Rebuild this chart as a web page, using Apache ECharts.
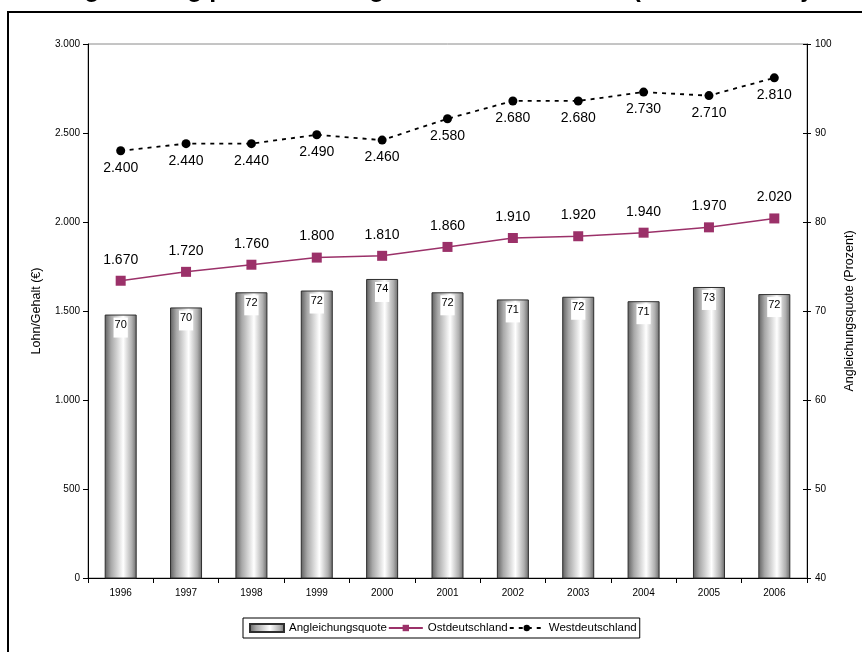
<!DOCTYPE html>
<html>
<head>
<meta charset="utf-8">
<script src="https://cdn.jsdelivr.net/npm/echarts@6/dist/echarts.min.js"></script>
<style>
  html, body { margin: 0; padding: 0; background: #fff; }
  #chart { width: 862px; height: 652px; }
</style>
</head>
<body>
<div id="chart"></div>
<script>
// Jahre
const years = ['1996', '1997', '1998', '1999', '2000', '2001', '2002', '2003', '2004', '2005', '2006'];
// Durchschnittlicher Lohn/Gehalt in Euro
const westdeutschland = [2400, 2440, 2440, 2490, 2460, 2580, 2680, 2680, 2730, 2710, 2810];
const ostdeutschland = [1670, 1720, 1760, 1800, 1810, 1860, 1910, 1920, 1940, 1970, 2020];
// Angleichungsquote Ost/West in Prozent
const angleichungsquote = [69.6, 70.4, 72.1, 72.3, 73.6, 72.1, 71.3, 71.6, 71.1, 72.7, 71.9];

const FONT = '"Liberation Sans", Arial, sans-serif';
const fmtEuro = v => v.toLocaleString('de-DE');

const chart = echarts.init(document.getElementById('chart'), null, { renderer: 'canvas' });

const barFill = new echarts.graphic.LinearGradient(0, 0, 1, 0, [
  { offset: 0, color: '#5e5e5e' },
  { offset: 0.2, color: '#a8a8a8' },
  { offset: 0.58, color: '#ffffff' },
  { offset: 0.85, color: '#b0b0b0' },
  { offset: 1, color: '#686868' }
]);

const rightAxisBase = {
  type: 'value', position: 'right', min: 40, max: 100, interval: 10,
  splitLine: { show: false }
};

chart.setOption({
  animation: false,
  textStyle: { fontFamily: FONT },
  grid: {
    left: 88, right: 55, top: 44, bottom: 74,
    outerBoundsMode: 'none', containLabel: false,
    show: true, borderColor: '#8a8a8a', borderWidth: 1, backgroundColor: 'transparent'
  },
  graphic: [
    {
      type: 'rect', z: 100,
      shape: { x: 8, y: 12, width: 1000, height: 1000 },
      style: { fill: 'none', stroke: '#000', lineWidth: 2 }
    },
    {
      type: 'text', z: 100, x: -6, y: -22,
      style: {
        text: 'Lohnangleichung pro Beschäftigtem in Ost und West (Durchschnitt je Monat)',
        font: 'bold 25px "Liberation Sans", Arial, sans-serif',
        fill: '#000', verticalAlign: 'top', align: 'left'
      }
    }
  ],
  legend: {
    bottom: 14, left: 243,
    borderColor: '#000', borderWidth: 1, padding: [4, 3, 4, 6],
    itemGap: 1, itemWidth: 34, itemHeight: 8,
    textStyle: { fontSize: 11.5, color: '#000', fontFamily: FONT },
    data: [
      { name: 'Angleichungsquote', icon: 'rect' },
      'Ostdeutschland',
      'Westdeutschland'
    ]
  },
  xAxis: {
    type: 'category', data: years,
    axisLine: { lineStyle: { color: '#000', width: 1 } },
    axisTick: { show: true, alignWithLabel: false, length: 5, lineStyle: { color: '#000' } },
    axisLabel: { color: '#000', fontSize: 10, margin: 10 }
  },
  yAxis: [
    {
      type: 'value', min: 0, max: 3000, interval: 500, position: 'left',
      name: 'Lohn/Gehalt (€)', nameLocation: 'middle', nameGap: 45, nameRotate: 90,
      nameTextStyle: { color: '#000', fontSize: 12.5 },
      axisLine: { show: true, lineStyle: { color: '#000' } },
      axisTick: { show: true, length: 5, lineStyle: { color: '#000' } },
      axisLabel: { color: '#000', fontSize: 10, margin: 8, formatter: fmtEuro },
      splitLine: { show: false }
    },
    Object.assign({}, rightAxisBase, {
      name: 'Angleichungsquote (Prozent)', nameLocation: 'middle', nameGap: 34, nameRotate: 90,
      nameTextStyle: { color: '#000', fontSize: 12.5 },
      axisLine: { show: true, lineStyle: { color: '#000' } },
      axisTick: { show: true, length: 4, lineStyle: { color: '#000' } },
      axisLabel: { color: '#000', fontSize: 10, margin: 8 }
    }),
    Object.assign({}, rightAxisBase, {
      axisLine: { show: false },
      axisTick: { show: true, inside: true, length: 4, lineStyle: { color: '#000' } },
      axisLabel: { show: false }
    })
  ],
  series: [
    {
      name: 'Angleichungsquote', type: 'bar', yAxisIndex: 1,
      data: angleichungsquote, barWidth: 32,
      itemStyle: { color: barFill, borderColor: '#2e2e2e', borderWidth: 1 },
      label: {
        show: true, position: 'insideTop', distance: 3,
        formatter: p => Math.round(p.value),
        color: '#000', fontSize: 11, backgroundColor: '#fff',
        padding: [2, 1, 7, 1]
      },
      z: 2
    },
    {
      name: 'Ostdeutschland', type: 'line', yAxisIndex: 0, data: ostdeutschland,
      symbol: 'rect', symbolSize: 10,
      lineStyle: { color: '#9b3169', width: 1.5 },
      itemStyle: { color: '#9b3169' },
      label: { show: true, position: 'top', distance: 9, color: '#000', fontSize: 14, formatter: p => fmtEuro(p.value) },
      z: 3
    },
    {
      name: 'Westdeutschland', type: 'line', yAxisIndex: 0, data: westdeutschland,
      symbol: 'circle', symbolSize: 9,
      lineStyle: { color: '#000', width: 1.8, type: [4, 5] },
      itemStyle: { color: '#000' },
      label: { show: true, position: 'bottom', distance: 6, color: '#000', fontSize: 14, formatter: p => fmtEuro(p.value) },
      z: 3
    }
  ]
});
</script>
</body>
</html>
